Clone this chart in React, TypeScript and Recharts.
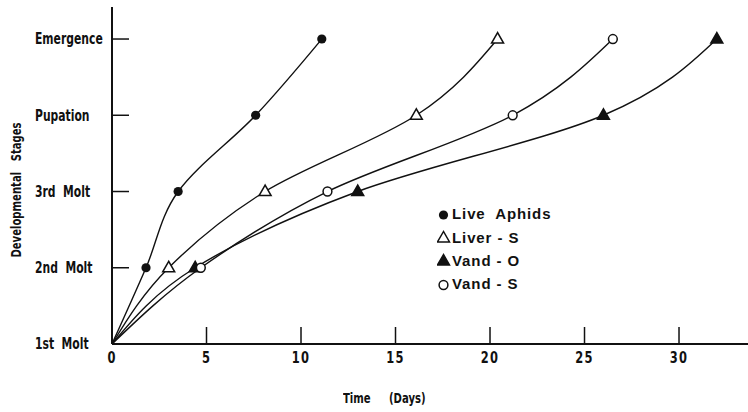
import React from "react";
import { LineChart, Line, XAxis, YAxis } from "recharts";

// developmental stage index -> label (y axis)
const stageLabels = ["1st  Molt", "2nd  Molt", "3rd  Molt", "Pupation", "Emergence"];
const stages = [0, 1, 2, 3, 4];
const dayTicks = [0, 5, 10, 15, 20, 25, 30];

// day at which each stage was reached, per diet
const liveAphidsDays = [0, 1.8, 3.5, 7.6, 11.1];
const liverSDays = [0, 3.0, 8.1, 16.1, 20.4];
const vandODays = [0, 4.4, 13.0, 26.0, 32.0];
const vandSDays = [0, 4.7, 11.4, 21.2, 26.5];

const FONT = "'DejaVu Sans Condensed', 'DejaVu Sans', sans-serif";
const LEGEND_FONT = "'Liberation Sans', Arial, sans-serif";
const INK = "#111";

type Marker = "dot" | "circle" | "triangle" | "filledTriangle";

const series: { name: string; days: number[]; marker: Marker }[] = [
  { name: "Live  Aphids", days: liveAphidsDays, marker: "dot" },
  { name: "Liver - S", days: liverSDays, marker: "triangle" },
  { name: "Vand - O", days: vandODays, marker: "filledTriangle" },
  { name: "Vand - S", days: vandSDays, marker: "circle" },
];

const toPoints = (days: number[]) => days.map((day, i) => ({ day, stage: stages[i] }));

function MarkerShape({ cx, cy, marker }: { cx: number; cy: number; marker: Marker }) {
  if (marker === "dot") return <circle cx={cx} cy={cy} r={4.6} fill={INK} />;
  if (marker === "circle")
    return <circle cx={cx} cy={cy} r={4.4} fill="#fff" stroke={INK} strokeWidth={1.5} />;
  const pts = `${cx},${cy - 6.5} ${cx - 6},${cy + 4} ${cx + 6},${cy + 4}`;
  return (
    <polygon
      points={pts}
      fill={marker === "filledTriangle" ? INK : "#fff"}
      stroke={INK}
      strokeWidth={1.5}
    />
  );
}

const makeDot = (marker: Marker) => (props: any) => {
  const { cx, cy, index } = props;
  if (index === 0) return <g key={`d-${index}`} />;
  return (
    <g key={`d-${index}`}>
      <MarkerShape cx={cx} cy={cy} marker={marker} />
    </g>
  );
};

const XTick = (props: any) => {
  const { x, y, payload } = props;
  return (
    <g>
      {payload.value !== 0 && <line x1={x} x2={x} y1={y} y2={y - 17} stroke={INK} strokeWidth={1.5} />}
      <g transform={`translate(${x},${y + 19}) scale(0.85,1)`}>
        <text x={0} y={0} textAnchor="middle" fontFamily={FONT} fontSize={15} fontWeight={700} fill={INK} letterSpacing={1.5}>
          {payload.value}
        </text>
      </g>
    </g>
  );
};

const YTick = (props: any) => {
  const { x, y, payload } = props;
  return (
    <g>
      {payload.value !== 0 && <line x1={x} x2={x + 17} y1={y} y2={y} stroke={INK} strokeWidth={1.5} />}
      <g transform={`translate(35,${y}) scale(0.8,1)`}>
        <text
          x={0}
          y={0}
          dy="0.36em"
          textAnchor="start"
          fontFamily={FONT}
          fontSize={15}
          fontWeight={700}
          fill={INK}
          style={{ whiteSpace: "pre" }}
        >
          {stageLabels[payload.value]}
        </text>
      </g>
    </g>
  );
};

const narrow: React.CSSProperties = {
  position: "absolute",
  fontFamily: FONT,
  fontSize: 14,
  fontWeight: 700,
  color: INK,
  whiteSpace: "pre",
  lineHeight: "16px",
};

export default function App() {
  return (
    <div style={{ position: "absolute", left: 0, top: 0, width: 748, height: 412, background: "#fff" }}>
      <LineChart width={748} height={412} margin={{ top: 7, right: 0, bottom: 0, left: 0 }}>
        <XAxis
          dataKey="day"
          type="number"
          domain={[0, 33.65]}
          ticks={dayTicks}
          allowDataOverflow
          height={68}
          tickSize={0}
          tickMargin={0}
          tickLine={false}
          tick={<XTick />}
          axisLine={{ stroke: INK, strokeWidth: 2 }}
        />
        <YAxis
          type="number"
          domain={[0, 4.42]}
          ticks={stages}
          allowDataOverflow
          width={112}
          tickSize={0}
          tickMargin={0}
          tickLine={false}
          tick={<YTick />}
          axisLine={{ stroke: INK, strokeWidth: 2 }}
        />
        {series.map((s) => (
          <Line
            key={s.name}
            data={toPoints(s.days)}
            dataKey="stage"
            name={s.name}
            type="monotoneY"
            stroke={INK}
            strokeWidth={1.4}
            dot={makeDot(s.marker)}
            activeDot={false}
            isAnimationActive={false}
          />
        ))}
      </LineChart>

      {/* legend inside the plot */}
      <div style={{ position: "absolute", left: 437, top: 202, fontFamily: LEGEND_FONT, fontWeight: 700, fontSize: 15, color: INK }}>
        {series.map((s) => (
          <div key={s.name} style={{ display: "flex", alignItems: "center", height: 23.4 }}>
            <svg width={14} height={16} style={{ marginRight: 1 }}>
              <MarkerShape cx={6.5} cy={9} marker={s.marker} />
            </svg>
            <span style={{ whiteSpace: "pre", letterSpacing: 0.9 }}>{s.name}</span>
          </div>
        ))}
      </div>

      <div style={{ ...narrow, left: 343, top: 390, transform: "scaleX(0.8)", transformOrigin: "left center" }}>Time</div>
      <div style={{ ...narrow, left: 389, top: 390, transform: "scaleX(0.8)", transformOrigin: "left center" }}>(Days)</div>

      <div
        style={{
          ...narrow,
          left: 16,
          top: 190,
          transform: "translate(-50%, -50%) rotate(-90deg) scaleX(0.8)",
        }}
      >
        {"Developmental   Stages"}
      </div>
    </div>
  );
}
